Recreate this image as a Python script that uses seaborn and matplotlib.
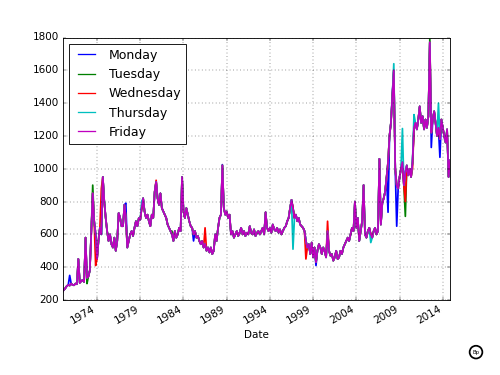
import pandas as pd
import matplotlib
matplotlib.use("Agg")
import matplotlib.pyplot as plt
import matplotlib.dates as mdates
import seaborn as sns

# one sample every two months, Jan 1970 .. Nov 2014
dates = pd.date_range("1970-01-01", periods=270, freq="2MS")

friday = [
    250, 262, 272, 285, 292, 288,      # 1970
    300, 292, 290, 300, 296, 450,      # 1971
    305, 315, 322, 310, 580, 335,      # 1972
    345, 380, 620, 850, 680, 600,      # 1973
    450, 560, 640, 600, 950, 800,      # 1974
    700, 620, 560, 600, 540, 520,      # 1975
    580, 500, 560, 730, 700, 650,      # 1976
    650, 780, 700, 520, 560, 600,      # 1977
    620, 590, 640, 680, 650, 700,      # 1978
    690, 760, 820, 740, 700, 720,      # 1979
    680, 650, 720, 700, 860, 920,      # 1980
    820, 780, 850, 760, 740, 720,      # 1981
    700, 660, 640, 620, 600, 560,      # 1982
    620, 580, 600, 640, 620, 950,      # 1983
    740, 700, 760, 720, 680, 650,      # 1984
    640, 600, 620, 580, 590, 560,      # 1985
    540, 560, 520, 540, 500, 520,      # 1986
    490, 520, 480, 500, 600, 560,      # 1987
    640, 700, 720, 1020, 760, 720,     # 1988
    740, 700, 720, 600, 620, 580,      # 1989
    600, 620, 590, 610, 640, 600,      # 1990
    620, 590, 610, 600, 650, 610,      # 1991
    600, 630, 590, 610, 620, 600,      # 1992
    620, 640, 600, 735, 640, 620,      # 1993
    640, 610, 660, 630, 620, 640,      # 1994
    610, 630, 600, 620, 640, 650,      # 1995
    680, 700, 760, 810, 760, 700,      # 1996
    720, 680, 700, 660, 650, 640,      # 1997
    620, 560, 520, 540, 480, 550,      # 1998
    460, 520, 430, 500, 540, 520,      # 1999
    480, 520, 500, 460, 620, 500,      # 2000
    470, 480, 440, 460, 500, 450,      # 2001
    460, 500, 480, 520, 540, 560,      # 2002
    580, 560, 600, 640, 620, 800,      # 2003
    640, 700, 560, 620, 680, 900,      # 2004
    600, 580, 620, 640, 600, 580,      # 2005
    620, 640, 600, 620, 1060, 660,     # 2006
    790, 820, 860, 950, 1040, 1200,    # 2007
    1280, 1440, 1600, 1000, 900, 880,  # 2008
    950, 1000, 1040, 900, 980, 1020,   # 2009
    960, 1000, 950, 1040, 1250, 1280,  # 2010
    1240, 1300, 1380, 1280, 1320, 1240,  # 2011
    1300, 1250, 1320, 1770, 1220, 1300,  # 2012
    1350, 1280, 1200, 1250, 1180, 1300,  # 2013
    1250, 1200, 1160, 1240, 950, 1050,   # 2014
]

# where the other weekdays part from friday
monday_diff = {"1970-11": 350, "1977-05": 790, "1985-03": 560, "1988-07": 1025,
               "1999-05": 410, "2007-09": 735, "2008-03": 1460, "2008-09": 650,
               "2012-09": 1130, "2013-09": 1070}
tuesday_diff = {"1972-11": 300, "1973-07": 900, "1982-09": 620, "2009-09": 710,
                "2012-07": 1790}
wednesday_diff = {"1973-11": 410, "1974-07": 880, "1980-11": 930, "1986-07": 640,
                  "1998-03": 450, "2000-09": 680, "2009-09": 800, "2010-07": 1000}
thursday_diff = {"1974-01": 460, "1979-03": 800, "1996-09": 510, "2005-09": 550,
                 "2008-05": 1640, "2009-05": 1245, "2010-09": 1330, "2013-07": 1400}

days = ["Monday", "Tuesday", "Wednesday", "Thursday", "Friday"]
diffs = [monday_diff, tuesday_diff, wednesday_diff, thursday_diff, {}]
colors = ["b", "g", "r", "c", "m"]

plt.style.use("classic")
fig, ax = plt.subplots(figsize=(8, 6), dpi=62.5)

for name, diff, col in zip(days, diffs, colors):
    s = pd.Series(friday, index=dates, dtype=float)
    if diff:
        s.loc[pd.to_datetime(list(diff.keys()))] = list(diff.values())
    sns.lineplot(x=s.index, y=s.values, color=col, lw=2.0, ax=ax, legend=False)

ax.set_xlim(dates[0], dates[-1])
ax.set_ylim(200, 1800)
ax.set_xticks(pd.to_datetime([f"{y}-01-01" for y in range(1974, 2015, 5)]))
ax.xaxis.set_major_formatter(mdates.DateFormatter("%Y"))
ax.grid(True)
ax.set_xlabel("Date")
ax.set_ylabel("")

# legend straight from the drawn lines
leg = ax.legend(ax.get_lines()[:5], days, loc="upper left")
for h, col in zip(leg.get_lines(), colors):
    h.set_color(col)
    h.set_linewidth(1.5)
fig.autofmt_xdate()

# little badge in the corner
fig.text(0.952, 0.061, "Bp", fontsize=6, ha="center", va="center",
         bbox=dict(boxstyle="circle,pad=0.55", fc="white", ec="black", lw=2))

fig.savefig("out.png", dpi=62.5)
